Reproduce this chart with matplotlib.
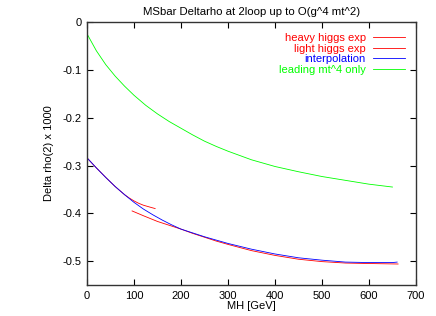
import matplotlib
matplotlib.use("Agg")
import matplotlib.pyplot as plt

plt.rcParams['font.family'] = ['Liberation Sans', 'DejaVu Sans']

# Heavy Higgs expansion
mh_heavy = [96, 120, 150, 175, 200, 225, 250, 275, 300, 350, 400, 450, 500,
            550, 600, 662]
dr_heavy = [-0.395, -0.405, -0.417, -0.425, -0.433, -0.442, -0.450, -0.458,
            -0.465, -0.478, -0.488, -0.496, -0.501, -0.504, -0.505, -0.506]

# Light Higgs expansion
mh_light = [2, 20, 40, 60, 80, 90, 100, 110, 120, 134, 145]
dr_light = [-0.286, -0.305, -0.325, -0.344, -0.361, -0.368, -0.374, -0.379,
            -0.383, -0.387, -0.390]

# Interpolation
mh_interp = [2, 20, 40, 60, 80, 100, 120, 140, 160, 180, 200, 225, 250, 275,
             300, 350, 400, 450, 500, 550, 600, 650, 660]
dr_interp = [-0.286, -0.305, -0.325, -0.344, -0.361, -0.377, -0.391, -0.403,
             -0.414, -0.424, -0.433, -0.441, -0.449, -0.456, -0.463, -0.475,
             -0.485, -0.493, -0.498, -0.502, -0.503, -0.503, -0.502]

# Leading mt^4 only
mh_lead = [2, 20, 40, 60, 80, 100, 125, 150, 175, 200, 225, 250, 275, 300,
           350, 400, 450, 500, 550, 600, 650]
dr_lead = [-0.028, -0.060, -0.089, -0.113, -0.134, -0.153, -0.174, -0.192,
           -0.208, -0.222, -0.236, -0.249, -0.260, -0.270, -0.288, -0.302,
           -0.313, -0.323, -0.331, -0.339, -0.345]

xticks = [0, 100, 200, 300, 400, 500, 600, 700]
yticks = [0, -0.1, -0.2, -0.3, -0.4, -0.5]
ytick_labels = ["0", "-0.1", "-0.2", "-0.3", "-0.4", "-0.5"]

fig = plt.figure(figsize=(4.36, 3.16), dpi=100)
ax = fig.add_axes([0.1995, 0.098, 0.7545, 0.832])

lw = 0.6
ax.plot(mh_heavy, dr_heavy, color='#ff0000', lw=lw, label='heavy higgs exp')
ax.plot(mh_light, dr_light, color='#ff0000', lw=lw, label='light higgs exp')
ax.plot(mh_interp, dr_interp, color='#0000ff', lw=lw, label='interpolation')
ax.plot(mh_lead, dr_lead, color='#00ff00', lw=lw, label='leading mt^4 only')

ax.set_xlim(0, 700)
ax.set_ylim(-0.55, 0)
ax.set_xticks(xticks)
ax.set_yticks(yticks)
ax.set_yticklabels(ytick_labels)
ax.tick_params(direction='in', length=4, width=0.8, top=True, right=True,
               labelsize=8, pad=4)
for s in ax.spines.values():
    s.set_linewidth(1.0)
    s.set_color('#333333')

ax.set_title("MSbar Deltarho at 2loop up to O(g^4 mt^2)", fontsize=8.2, pad=5)
ax.set_xlabel("MH [GeV]", fontsize=8, labelpad=0)
ax.set_ylabel("Delta rho(2) x 1000", fontsize=8, labelpad=6)

leg = ax.legend(loc='upper right', frameon=False, fontsize=8, markerfirst=False,
                handlelength=2.9, handletextpad=0.6, labelspacing=0.05,
                borderaxespad=0.6)
for txt, line in zip(leg.get_texts(), leg.get_lines()):
    txt.set_color(line.get_color())

fig.savefig("out.png", dpi=100)
